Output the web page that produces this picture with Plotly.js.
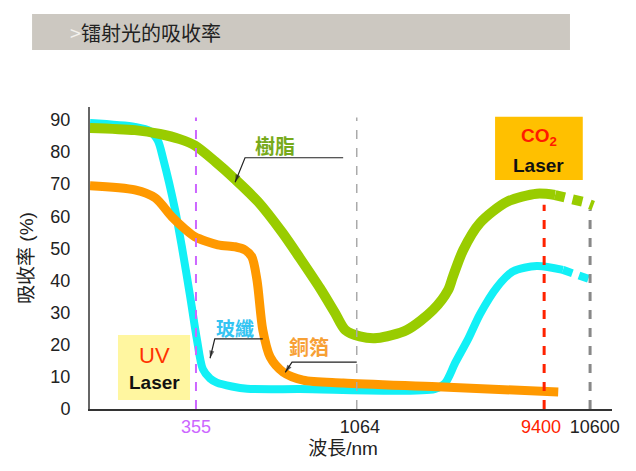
<!DOCTYPE html>
<html>
<head>
<meta charset="utf-8">
<script src="https://cdn.plot.ly/plotly-3.0.1.min.js"></script>
<style>html,body{margin:0;padding:0;background:#fff;}#chart{width:636px;height:471px;}</style>
</head>
<body>
<div id="chart"></div>
<script>
// Schematic wavelength axis (non-linear): positions 0..100 along the axis
const tickPos = [20.3, 51.7, 86.4, 96.7];          // label positions
const markerPos = [20.3, 51.1, 87.0, 95.8];        // dashed wavelength markers
const tickLabels = ['355', '1064', '9400', '10600'];
const tickColors = ['#cc66ff', '#222222', '#ff2200', '#222222'];

// 樹脂 (resin)
const resinX = [0, 8.6, 13.4, 17.2, 20.1, 24.0, 27.8, 32.2, 36.8, 40.2, 44.1, 46.9, 48.9, 51.7, 55.0, 60.7, 65.7, 68.6, 69.5, 71.5, 74.7, 79.9, 85.6, 89.1];
const resinY = [87.5, 86.8, 85.6, 84.0, 82.0, 77.0, 71.5, 64.5, 55.0, 47.0, 37.5, 30.0, 24.6, 22.6, 22.1, 24.6, 30.8, 37.0, 41.1, 49.5, 57.9, 64.5, 67.0, 66.6];
const resinExtX = [89.1, 91.4, 93.3, 94.4, 96.4];
const resinExtY = [66.6, 66.0, 65.5, 64.5, 63.3];

// 玻纖 (glass fibre)
const glassX = [0, 8.6, 11.5, 13.0, 14.0, 16.3, 17.6, 19.2, 20.5, 21.6, 23.0, 24.3, 27.2, 30.1, 40.2, 66.0, 68.0, 70.0, 72.5, 74.7, 78.0, 81.0, 85.6, 90.6];
const glassY = [89.0, 87.8, 86.5, 83.5, 78.0, 62.0, 50.5, 34.9, 21.5, 12.5, 9.5, 8.2, 7.0, 6.3, 6.2, 6.2, 8.0, 14.5, 22.0, 29.5, 38.0, 42.8, 44.5, 43.3];
const glassExtX = [90.6, 92.5, 94.5, 96.4];
const glassExtY = [43.3, 42.3, 41.2, 40.0];

// 銅箔 (copper foil)
const copperX = [0, 8.6, 12.5, 15.7, 18.2, 20.1, 24.5, 27.8, 29.7, 31.0, 32.0, 33.1, 34.5, 37.0, 40.8, 48.5, 66.5, 89.7];
const copperY = [69.5, 68.2, 65.7, 59.8, 56.0, 53.6, 51.1, 50.5, 49.5, 47.4, 40.0, 24.6, 16.2, 11.5, 9.0, 8.1, 6.9, 5.3];

// Leader lines for the material labels (tail -> bend -> arrow tip)
const resinLeaderX = [48.5, 29.7, 27.8];
const resinLeaderY = [78.2, 78.2, 70.6];
const glassLeaderX = [33.1, 23.9, 23.0];
const glassLeaderY = [21.8, 21.8, 15.8];
const copperLeaderX = [51.1, 38.7, 37.4];
const copperLeaderY = [14.6, 14.6, 11.4];

const yTicks = [0, 10, 20, 30, 40, 50, 60, 70, 80, 90];

const FONT = 'Liberation Sans, Arial, "Noto Sans CJK TC", "Noto Sans CJK SC", sans-serif';
const GREEN = '#99cc00', CYAN = '#12f0f6', ORANGE = '#ff9900';

function leader(xs, ys) {
  return {x: xs, y: ys, mode: 'lines+markers', line: {color: '#222', width: 1.2},
    marker: {symbol: ['circle', 'circle', 'arrow'], size: [0, 0, 8], color: '#222', angleref: 'previous', line: {width: 0}},
    hoverinfo: 'skip'};
}

const traces = [
  {x: glassX, y: glassY, mode: 'lines', line: {color: CYAN, width: 8, shape: 'spline', smoothing: 0.8}, hoverinfo: 'skip'},
  {x: glassExtX, y: glassExtY, mode: 'lines', line: {color: CYAN, width: 8, dash: '10px,7px'}, hoverinfo: 'skip'},
  {x: copperX, y: copperY, mode: 'lines', line: {color: ORANGE, width: 9, shape: 'spline', smoothing: 0.8}, hoverinfo: 'skip'},
  {x: resinX, y: resinY, mode: 'lines', line: {color: GREEN, width: 10, shape: 'spline', smoothing: 0.8}, hoverinfo: 'skip'},
  {x: resinExtX, y: resinExtY, mode: 'lines', line: {color: GREEN, width: 10, dash: '10px,8px'}, hoverinfo: 'skip'},
  leader(resinLeaderX, resinLeaderY),
  leader(glassLeaderX, glassLeaderY),
  leader(copperLeaderX, copperLeaderY)
];

const ticktext = tickLabels.map((t, i) => '<span style="color:' + tickColors[i] + '">' + t + '</span>');

const layout = {
  width: 636, height: 471,
  margin: {l: 90, r: 24, t: 107, b: 62},
  paper_bgcolor: '#ffffff', plot_bgcolor: '#ffffff',
  showlegend: false,
  font: {family: FONT, color: '#222'},
  xaxis: {
    range: [0, 100], showgrid: false, zeroline: false, showline: true,
    linecolor: '#333', linewidth: 2, ticks: '', tickangle: 0,
    tickmode: 'array', tickvals: tickPos, ticktext: ticktext,
    tickfont: {size: 18, family: FONT}, fixedrange: true,
    title: {text: '波長/nm&nbsp;&nbsp;&nbsp;', font: {size: 19, color: '#222', family: FONT}, standoff: 6}
  },
  yaxis: {
    range: [0, 94], showgrid: false, zeroline: false, showline: true,
    linecolor: '#666', linewidth: 2, ticks: '',
    tickmode: 'array', tickvals: yTicks, ticktext: yTicks.map(String),
    tickfont: {size: 18, family: FONT, color: '#222'}, ticklabelstandoff: 14, fixedrange: true,
    title: {text: '吸收率 (%)', font: {size: 19, color: '#222', family: FONT}, standoff: 12}
  },
  shapes: [
    {type: 'rect', xref: 'paper', yref: 'paper', x0: -0.111, x1: 0.9195, y0: 1.189, y1: 1.308, fillcolor: '#ccc8c1', line: {width: 0}, layer: 'below'},
    {type: 'rect', xref: 'x', yref: 'y', x0: 5.36, x1: 19.16, y0: 2.8, y1: 23.05, fillcolor: '#fff6a0', line: {width: 0}, layer: 'below'},
    {type: 'rect', xref: 'x', yref: 'y', x0: 77.6, x1: 94.4, y0: 71.3, y1: 91.0, fillcolor: '#ffc000', line: {width: 0}, layer: 'below'},
    {type: 'line', xref: 'x', yref: 'y', x0: markerPos[0], x1: markerPos[0], y0: 0, y1: 90.7, line: {color: '#cc66ff', width: 2, dash: 'dash'}},
    {type: 'line', xref: 'x', yref: 'y', x0: markerPos[1], x1: markerPos[1], y0: 0, y1: 90.7, line: {color: '#aaaaaa', width: 1.5, dash: 'dash'}},
    {type: 'line', xref: 'x', yref: 'y', x0: markerPos[2], x1: markerPos[2], y0: 0, y1: 63.6, line: {color: '#ff2200', width: 3, dash: 'dash'}},
    {type: 'line', xref: 'x', yref: 'y', x0: markerPos[3], x1: markerPos[3], y0: 0, y1: 62.0, line: {color: '#888888', width: 3, dash: 'dash'}}
  ],
  annotations: [
    {xref: 'paper', yref: 'paper', x: -0.042, y: 1.248, xanchor: 'left', yanchor: 'middle', showarrow: false,
     text: '<span style="color:#f4f2ee">&gt;</span>镭射光的吸收率', font: {size: 20, color: '#222', family: '"Noto Sans CJK SC", ' + FONT}},
    {x: 12.26, y: 16.8, showarrow: false, text: 'UV', font: {size: 22, color: '#ff3300', family: FONT}},
    {x: 12.26, y: 8.1, showarrow: false, text: '<b>Laser</b>', font: {size: 19, color: '#111', family: FONT}},
    {x: 86.0, y: 84.7, showarrow: false, text: '<b>CO<sub>2</sub></b>', font: {size: 19, color: '#ff1a00', family: FONT}},
    {x: 86.0, y: 75.7, showarrow: false, text: '<b>Laser</b>', font: {size: 19, color: '#111', family: FONT}},
    {x: 35.4, y: 81.6, showarrow: false, text: '<b>樹脂</b>', font: {size: 20, color: '#77aa1a', family: FONT}},
    {x: 27.8, y: 24.6, showarrow: false, text: '<b>玻纖</b>', font: {size: 19, color: '#33c4f2', family: FONT}},
    {x: 42.0, y: 19.0, showarrow: false, text: '<b>銅箔</b>', font: {size: 20, color: '#f7a035', family: FONT}}
  ]
};

Plotly.newPlot('chart', traces, layout, {staticPlot: true, displayModeBar: false});
</script>
</body>
</html>
